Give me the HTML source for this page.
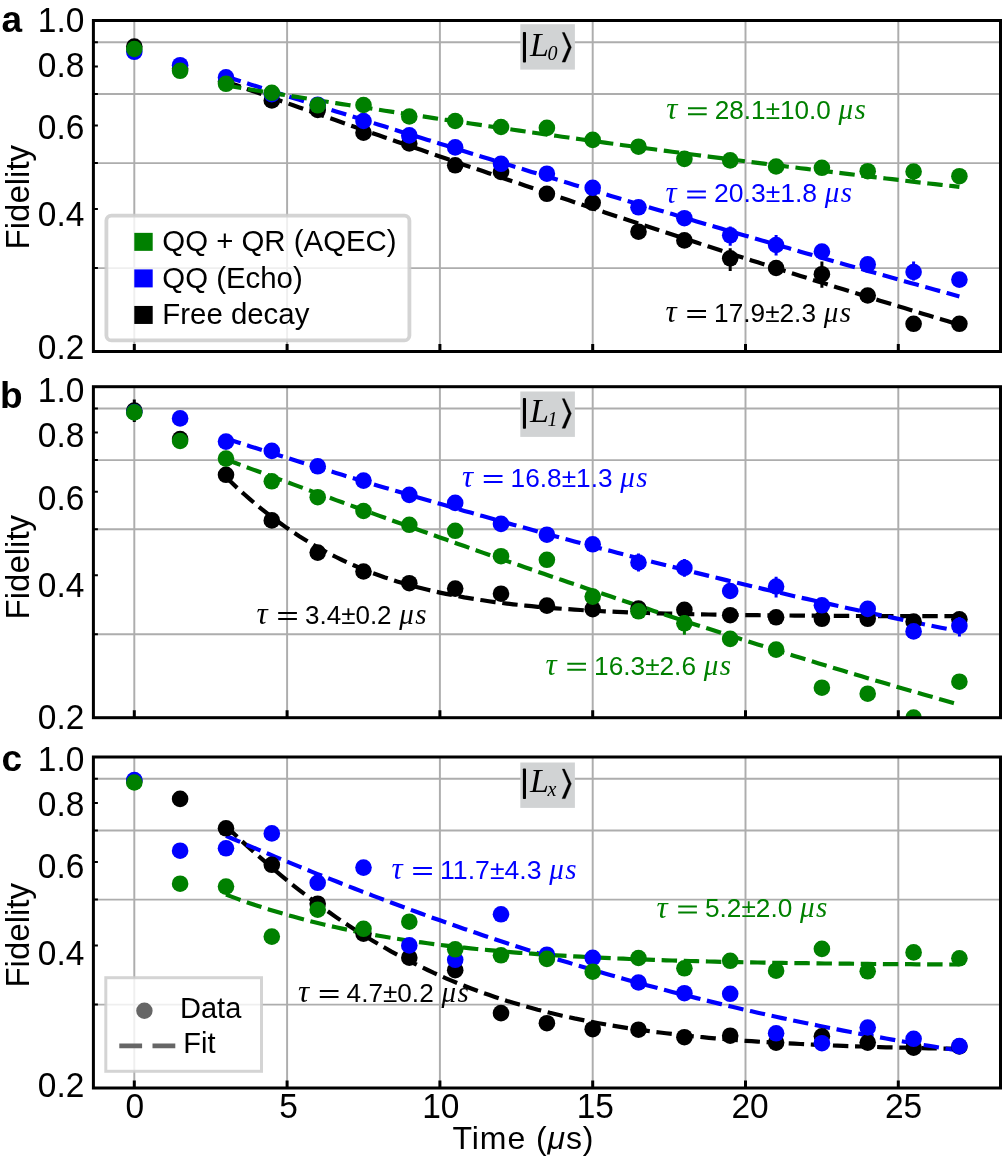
<!DOCTYPE html><html><head><meta charset="utf-8"><style>html,body{margin:0;padding:0;background:#fff;}svg{display:block;will-change:transform;}svg{font-family:"Liberation Sans",sans-serif;}</style></head><body>
<svg width="1002" height="1160" viewBox="0 0 1002 1160">
<rect width="1002" height="1160" fill="#fff"/>
<defs><clipPath id="clipa"><rect x="93.4" y="20.5" width="907.1" height="331.0"/></clipPath></defs>
<path d="M134.3 20.5V351.5M287.1 20.5V351.5M439.9 20.5V351.5M592.7 20.5V351.5M745.5 20.5V351.5M898.3 20.5V351.5M93.4 42.2H1000.5M93.4 93.9H1000.5M93.4 163.1H1000.5M93.4 268.1H1000.5" stroke="#adadad" stroke-width="1.95" fill="none"/>
<text x="666.2" y="119.4" fill="#008000" font-size="31" style="font-family:'Liberation Serif',serif;font-style:italic">τ</text>
<path d="M688.0 108.2h18.7M688.0 114.2h18.7" stroke="#008000" stroke-width="2"/>
<text x="714.8" y="119.1" fill="#008000" font-size="25.5" textLength="116.0" lengthAdjust="spacingAndGlyphs">28.1±10.0</text>
<text x="838.5" y="119.1" fill="#008000" font-size="29" style="font-family:'Liberation Serif',serif;font-style:italic">μ</text>
<text x="854.5" y="119.1" fill="#008000" font-size="29" style="font-family:'Liberation Serif',serif;font-style:italic">s</text>
<text x="665.4" y="202.6" fill="#0000ff" font-size="31" style="font-family:'Liberation Serif',serif;font-style:italic">τ</text>
<path d="M687.2 191.4h18.7M687.2 197.4h18.7" stroke="#0000ff" stroke-width="2"/>
<text x="714.0" y="202.3" fill="#0000ff" font-size="25.5" textLength="103.1" lengthAdjust="spacingAndGlyphs">20.3±1.8</text>
<text x="824.8" y="202.3" fill="#0000ff" font-size="29" style="font-family:'Liberation Serif',serif;font-style:italic">μ</text>
<text x="840.8" y="202.3" fill="#0000ff" font-size="29" style="font-family:'Liberation Serif',serif;font-style:italic">s</text>
<text x="665.5" y="322.1" fill="#000000" font-size="31" style="font-family:'Liberation Serif',serif;font-style:italic">τ</text>
<path d="M687.3 310.9h18.7M687.3 316.9h18.7" stroke="#000000" stroke-width="2"/>
<text x="714.1" y="321.8" fill="#000000" font-size="25.5" textLength="101.9" lengthAdjust="spacingAndGlyphs">17.9±2.3</text>
<text x="823.7" y="321.8" fill="#000000" font-size="29" style="font-family:'Liberation Serif',serif;font-style:italic">μ</text>
<text x="839.7" y="321.8" fill="#000000" font-size="29" style="font-family:'Liberation Serif',serif;font-style:italic">s</text>
<g clip-path="url(#clipa)">
<path d="M226.0 81.5 L232.1 83.7 L238.2 85.8 L244.3 88.0 L250.4 90.2 L256.5 92.3 L262.7 94.5 L268.8 96.7 L274.9 98.8 L281.0 101.0 L287.1 103.1 L293.2 105.3 L299.3 107.4 L305.4 109.6 L311.5 111.8 L317.7 113.9 L323.8 116.0 L329.9 118.2 L336.0 120.3 L342.1 122.5 L348.2 124.6 L354.3 126.8 L360.4 128.9 L366.6 131.0 L372.7 133.2 L378.8 135.3 L384.9 137.4 L391.0 139.5 L397.1 141.7 L403.2 143.8 L409.3 145.9 L415.5 148.0 L421.6 150.1 L427.7 152.2 L433.8 154.3 L439.9 156.5 L446.0 158.6 L452.1 160.7 L458.2 162.8 L464.3 164.9 L470.5 167.0 L476.6 169.0 L482.7 171.1 L488.8 173.2 L494.9 175.3 L501.0 177.4 L507.1 179.5 L513.2 181.5 L519.4 183.6 L525.5 185.7 L531.6 187.8 L537.7 189.8 L543.8 191.9 L549.9 194.0 L556.0 196.0 L562.1 198.1 L568.3 200.1 L574.4 202.2 L580.5 204.2 L586.6 206.3 L592.7 208.3 L598.8 210.4 L604.9 212.4 L611.0 214.4 L617.1 216.5 L623.3 218.5 L629.4 220.5 L635.5 222.5 L641.6 224.6 L647.7 226.6 L653.8 228.6 L659.9 230.6 L666.0 232.6 L672.2 234.6 L678.3 236.6 L684.4 238.6 L690.5 240.6 L696.6 242.6 L702.7 244.6 L708.8 246.6 L714.9 248.5 L721.1 250.5 L727.2 252.5 L733.3 254.5 L739.4 256.4 L745.5 258.4 L751.6 260.4 L757.7 262.3 L763.8 264.3 L769.9 266.2 L776.1 268.2 L782.2 270.1 L788.3 272.0 L794.4 274.0 L800.5 275.9 L806.6 277.8 L812.7 279.8 L818.8 281.7 L825.0 283.6 L831.1 285.5 L837.2 287.4 L843.3 289.3 L849.4 291.2 L855.5 293.1 L861.6 295.0 L867.7 296.9 L873.9 298.8 L880.0 300.7 L886.1 302.5 L892.2 304.4 L898.3 306.3 L904.4 308.1 L910.5 310.0 L916.6 311.9 L922.7 313.7 L928.9 315.6 L935.0 317.4 L941.1 319.2 L947.2 321.1 L953.3 322.9 L959.4 324.7" stroke="#000000" stroke-width="4.18" stroke-dasharray="15.45 6.68" fill="none"/>
<path d="M226.0 76.6 L232.1 78.6 L238.2 80.5 L244.3 82.4 L250.4 84.4 L256.5 86.3 L262.7 88.2 L268.8 90.2 L274.9 92.1 L281.0 94.0 L287.1 96.0 L293.2 97.9 L299.3 99.8 L305.4 101.8 L311.5 103.7 L317.7 105.6 L323.8 107.5 L329.9 109.4 L336.0 111.4 L342.1 113.3 L348.2 115.2 L354.3 117.1 L360.4 119.0 L366.6 120.9 L372.7 122.8 L378.8 124.7 L384.9 126.6 L391.0 128.6 L397.1 130.5 L403.2 132.4 L409.3 134.3 L415.5 136.2 L421.6 138.0 L427.7 139.9 L433.8 141.8 L439.9 143.7 L446.0 145.6 L452.1 147.5 L458.2 149.4 L464.3 151.3 L470.5 153.2 L476.6 155.0 L482.7 156.9 L488.8 158.8 L494.9 160.7 L501.0 162.5 L507.1 164.4 L513.2 166.3 L519.4 168.1 L525.5 170.0 L531.6 171.9 L537.7 173.7 L543.8 175.6 L549.9 177.4 L556.0 179.3 L562.1 181.2 L568.3 183.0 L574.4 184.9 L580.5 186.7 L586.6 188.5 L592.7 190.4 L598.8 192.2 L604.9 194.1 L611.0 195.9 L617.1 197.7 L623.3 199.6 L629.4 201.4 L635.5 203.2 L641.6 205.1 L647.7 206.9 L653.8 208.7 L659.9 210.5 L666.0 212.3 L672.2 214.1 L678.3 216.0 L684.4 217.8 L690.5 219.6 L696.6 221.4 L702.7 223.2 L708.8 225.0 L714.9 226.8 L721.1 228.6 L727.2 230.4 L733.3 232.2 L739.4 233.9 L745.5 235.7 L751.6 237.5 L757.7 239.3 L763.8 241.1 L769.9 242.8 L776.1 244.6 L782.2 246.4 L788.3 248.1 L794.4 249.9 L800.5 251.7 L806.6 253.4 L812.7 255.2 L818.8 256.9 L825.0 258.7 L831.1 260.4 L837.2 262.2 L843.3 263.9 L849.4 265.7 L855.5 267.4 L861.6 269.1 L867.7 270.9 L873.9 272.6 L880.0 274.3 L886.1 276.0 L892.2 277.7 L898.3 279.5 L904.4 281.2 L910.5 282.9 L916.6 284.6 L922.7 286.3 L928.9 288.0 L935.0 289.7 L941.1 291.4 L947.2 293.1 L953.3 294.7 L959.4 296.4" stroke="#0000ff" stroke-width="4.18" stroke-dasharray="15.45 6.68" fill="none"/>
<path d="M226.0 85.5 L232.1 86.5 L238.2 87.5 L244.3 88.5 L250.4 89.5 L256.5 90.5 L262.7 91.5 L268.8 92.5 L274.9 93.4 L281.0 94.4 L287.1 95.4 L293.2 96.4 L299.3 97.3 L305.4 98.3 L311.5 99.3 L317.7 100.2 L323.8 101.2 L329.9 102.2 L336.0 103.1 L342.1 104.1 L348.2 105.0 L354.3 106.0 L360.4 106.9 L366.6 107.8 L372.7 108.8 L378.8 109.7 L384.9 110.7 L391.0 111.6 L397.1 112.5 L403.2 113.5 L409.3 114.4 L415.5 115.3 L421.6 116.2 L427.7 117.1 L433.8 118.1 L439.9 119.0 L446.0 119.9 L452.1 120.8 L458.2 121.7 L464.3 122.6 L470.5 123.5 L476.6 124.4 L482.7 125.3 L488.8 126.2 L494.9 127.1 L501.0 128.0 L507.1 128.8 L513.2 129.7 L519.4 130.6 L525.5 131.5 L531.6 132.4 L537.7 133.2 L543.8 134.1 L549.9 135.0 L556.0 135.8 L562.1 136.7 L568.3 137.5 L574.4 138.4 L580.5 139.3 L586.6 140.1 L592.7 141.0 L598.8 141.8 L604.9 142.6 L611.0 143.5 L617.1 144.3 L623.3 145.2 L629.4 146.0 L635.5 146.8 L641.6 147.6 L647.7 148.5 L653.8 149.3 L659.9 150.1 L666.0 150.9 L672.2 151.7 L678.3 152.5 L684.4 153.3 L690.5 154.2 L696.6 155.0 L702.7 155.8 L708.8 156.6 L714.9 157.3 L721.1 158.1 L727.2 158.9 L733.3 159.7 L739.4 160.5 L745.5 161.3 L751.6 162.1 L757.7 162.8 L763.8 163.6 L769.9 164.4 L776.1 165.1 L782.2 165.9 L788.3 166.7 L794.4 167.4 L800.5 168.2 L806.6 168.9 L812.7 169.7 L818.8 170.4 L825.0 171.2 L831.1 171.9 L837.2 172.7 L843.3 173.4 L849.4 174.1 L855.5 174.9 L861.6 175.6 L867.7 176.3 L873.9 177.1 L880.0 177.8 L886.1 178.5 L892.2 179.2 L898.3 179.9 L904.4 180.6 L910.5 181.3 L916.6 182.1 L922.7 182.8 L928.9 183.5 L935.0 184.2 L941.1 184.8 L947.2 185.5 L953.3 186.2 L959.4 186.9" stroke="#008000" stroke-width="4.18" stroke-dasharray="15.45 6.68" fill="none"/>
<path d="M730.2 248.2V271.0" stroke="#000000" stroke-width="3"/>
<path d="M821.9 261.4V287.7" stroke="#000000" stroke-width="3"/>
<circle cx="134.3" cy="46.6" r="8.3" fill="#000000"/>
<circle cx="180.1" cy="68.5" r="8.3" fill="#000000"/>
<circle cx="226.0" cy="81.5" r="8.3" fill="#000000"/>
<circle cx="271.8" cy="100.4" r="8.3" fill="#000000"/>
<circle cx="317.7" cy="109.9" r="8.3" fill="#000000"/>
<circle cx="363.5" cy="132.7" r="8.3" fill="#000000"/>
<circle cx="409.3" cy="143.5" r="8.3" fill="#000000"/>
<circle cx="455.2" cy="165.3" r="8.3" fill="#000000"/>
<circle cx="501.0" cy="172.0" r="8.3" fill="#000000"/>
<circle cx="546.9" cy="193.8" r="8.3" fill="#000000"/>
<circle cx="592.7" cy="202.8" r="8.3" fill="#000000"/>
<circle cx="638.5" cy="231.7" r="8.3" fill="#000000"/>
<circle cx="684.4" cy="240.4" r="8.3" fill="#000000"/>
<circle cx="730.2" cy="258.3" r="8.3" fill="#000000"/>
<circle cx="776.1" cy="268.0" r="8.3" fill="#000000"/>
<circle cx="821.9" cy="274.2" r="8.3" fill="#000000"/>
<circle cx="867.7" cy="295.5" r="8.3" fill="#000000"/>
<circle cx="913.6" cy="323.8" r="8.3" fill="#000000"/>
<circle cx="959.4" cy="323.8" r="8.3" fill="#000000"/>
<path d="M730.2 226.6V245.8" stroke="#0000ff" stroke-width="3"/>
<path d="M776.1 235.0V255.4" stroke="#0000ff" stroke-width="3"/>
<path d="M913.6 261.4V280.5" stroke="#0000ff" stroke-width="3"/>
<circle cx="134.3" cy="51.8" r="8.3" fill="#0000ff"/>
<circle cx="180.1" cy="65.2" r="8.3" fill="#0000ff"/>
<circle cx="226.0" cy="77.4" r="8.3" fill="#0000ff"/>
<circle cx="271.8" cy="94.1" r="8.3" fill="#0000ff"/>
<circle cx="317.7" cy="104.7" r="8.3" fill="#0000ff"/>
<circle cx="363.5" cy="121.0" r="8.3" fill="#0000ff"/>
<circle cx="409.3" cy="135.4" r="8.3" fill="#0000ff"/>
<circle cx="455.2" cy="147.4" r="8.3" fill="#0000ff"/>
<circle cx="501.0" cy="163.8" r="8.3" fill="#0000ff"/>
<circle cx="546.9" cy="173.7" r="8.3" fill="#0000ff"/>
<circle cx="592.7" cy="187.8" r="8.3" fill="#0000ff"/>
<circle cx="638.5" cy="207.3" r="8.3" fill="#0000ff"/>
<circle cx="684.4" cy="218.2" r="8.3" fill="#0000ff"/>
<circle cx="730.2" cy="235.3" r="8.3" fill="#0000ff"/>
<circle cx="776.1" cy="245.0" r="8.3" fill="#0000ff"/>
<circle cx="821.9" cy="251.5" r="8.3" fill="#0000ff"/>
<circle cx="867.7" cy="264.4" r="8.3" fill="#0000ff"/>
<circle cx="913.6" cy="272.0" r="8.3" fill="#0000ff"/>
<circle cx="959.4" cy="279.6" r="8.3" fill="#0000ff"/>
<path d="M867.7 165V178.7" stroke="#008000" stroke-width="3"/>
<path d="M913.6 164V180" stroke="#008000" stroke-width="3"/>
<circle cx="134.3" cy="49.0" r="8.3" fill="#008000"/>
<circle cx="180.1" cy="70.8" r="8.3" fill="#008000"/>
<circle cx="226.0" cy="83.8" r="8.3" fill="#008000"/>
<circle cx="271.8" cy="92.8" r="8.3" fill="#008000"/>
<circle cx="317.7" cy="105.3" r="8.3" fill="#008000"/>
<circle cx="363.5" cy="105.0" r="8.3" fill="#008000"/>
<circle cx="409.3" cy="116.5" r="8.3" fill="#008000"/>
<circle cx="455.2" cy="121.0" r="8.3" fill="#008000"/>
<circle cx="501.0" cy="127.0" r="8.3" fill="#008000"/>
<circle cx="546.9" cy="127.9" r="8.3" fill="#008000"/>
<circle cx="592.7" cy="139.9" r="8.3" fill="#008000"/>
<circle cx="638.5" cy="146.7" r="8.3" fill="#008000"/>
<circle cx="684.4" cy="158.9" r="8.3" fill="#008000"/>
<circle cx="730.2" cy="160.4" r="8.3" fill="#008000"/>
<circle cx="776.1" cy="166.5" r="8.3" fill="#008000"/>
<circle cx="821.9" cy="167.8" r="8.3" fill="#008000"/>
<circle cx="867.7" cy="171.2" r="8.3" fill="#008000"/>
<circle cx="913.6" cy="171.5" r="8.3" fill="#008000"/>
<circle cx="959.4" cy="176.2" r="8.3" fill="#008000"/>
</g>
<path d="M134.3 351.5V344.0M287.1 351.5V344.0M439.9 351.5V344.0M592.7 351.5V344.0M745.5 351.5V344.0M898.3 351.5V344.0" stroke="#000" stroke-width="3" fill="none"/>
<path d="M93.4 42.2H97.9M93.4 66.4H97.9M93.4 93.9H97.9M93.4 125.6H97.9M93.4 163.1H97.9M93.4 209.0H97.9M93.4 268.1H97.9" stroke="#000" stroke-width="2" fill="none"/>
<rect x="93.4" y="20.5" width="907.1" height="331.0" stroke="#000" stroke-width="3" fill="none"/>
<defs><clipPath id="clipb"><rect x="93.4" y="386.7" width="907.1" height="331.0"/></clipPath></defs>
<path d="M134.3 386.7V717.7M287.1 386.7V717.7M439.9 386.7V717.7M592.7 386.7V717.7M745.5 386.7V717.7M898.3 386.7V717.7M93.4 408.4H1000.5M93.4 460.1H1000.5M93.4 529.3H1000.5M93.4 634.3H1000.5" stroke="#adadad" stroke-width="1.95" fill="none"/>
<text x="462.0" y="487.1" fill="#0000ff" font-size="31" style="font-family:'Liberation Serif',serif;font-style:italic">τ</text>
<path d="M483.8 475.9h18.7M483.8 481.9h18.7" stroke="#0000ff" stroke-width="2"/>
<text x="510.6" y="486.8" fill="#0000ff" font-size="25.5" textLength="102.0" lengthAdjust="spacingAndGlyphs">16.8±1.3</text>
<text x="620.3" y="486.8" fill="#0000ff" font-size="29" style="font-family:'Liberation Serif',serif;font-style:italic">μ</text>
<text x="636.3" y="486.8" fill="#0000ff" font-size="29" style="font-family:'Liberation Serif',serif;font-style:italic">s</text>
<text x="256.4" y="624.3" fill="#000000" font-size="31" style="font-family:'Liberation Serif',serif;font-style:italic">τ</text>
<path d="M278.2 613.1h18.7M278.2 619.1h18.7" stroke="#000000" stroke-width="2"/>
<text x="305.0" y="624.0" fill="#000000" font-size="25.5" textLength="86.6" lengthAdjust="spacingAndGlyphs">3.4±0.2</text>
<text x="399.3" y="624.0" fill="#000000" font-size="29" style="font-family:'Liberation Serif',serif;font-style:italic">μ</text>
<text x="415.3" y="624.0" fill="#000000" font-size="29" style="font-family:'Liberation Serif',serif;font-style:italic">s</text>
<text x="545.5" y="674.9" fill="#008000" font-size="31" style="font-family:'Liberation Serif',serif;font-style:italic">τ</text>
<path d="M567.3 663.7h18.7M567.3 669.7h18.7" stroke="#008000" stroke-width="2"/>
<text x="594.1" y="674.6" fill="#008000" font-size="25.5" textLength="101.9" lengthAdjust="spacingAndGlyphs">16.3±2.6</text>
<text x="703.7" y="674.6" fill="#008000" font-size="29" style="font-family:'Liberation Serif',serif;font-style:italic">μ</text>
<text x="719.7" y="674.6" fill="#008000" font-size="29" style="font-family:'Liberation Serif',serif;font-style:italic">s</text>
<g clip-path="url(#clipb)">
<path d="M226.0 477.2 L232.1 483.1 L238.2 488.8 L244.3 494.3 L250.4 499.6 L256.5 504.8 L262.7 509.8 L268.8 514.6 L274.9 519.3 L281.0 523.7 L287.1 528.1 L293.2 532.2 L299.3 536.2 L305.4 540.0 L311.5 543.7 L317.7 547.3 L323.8 550.6 L329.9 553.9 L336.0 557.0 L342.1 560.0 L348.2 562.8 L354.3 565.5 L360.4 568.1 L366.6 570.6 L372.7 573.0 L378.8 575.2 L384.9 577.4 L391.0 579.4 L397.1 581.4 L403.2 583.2 L409.3 585.0 L415.5 586.7 L421.6 588.3 L427.7 589.8 L433.8 591.2 L439.9 592.6 L446.0 593.9 L452.1 595.1 L458.2 596.2 L464.3 597.4 L470.5 598.4 L476.6 599.4 L482.7 600.3 L488.8 601.2 L494.9 602.1 L501.0 602.8 L507.1 603.6 L513.2 604.3 L519.4 605.0 L525.5 605.6 L531.6 606.2 L537.7 606.8 L543.8 607.3 L549.9 607.8 L556.0 608.3 L562.1 608.8 L568.3 609.2 L574.4 609.6 L580.5 610.0 L586.6 610.4 L592.7 610.7 L598.8 611.0 L604.9 611.3 L611.0 611.6 L617.1 611.9 L623.3 612.1 L629.4 612.4 L635.5 612.6 L641.6 612.8 L647.7 613.0 L653.8 613.2 L659.9 613.4 L666.0 613.6 L672.2 613.7 L678.3 613.9 L684.4 614.0 L690.5 614.2 L696.6 614.3 L702.7 614.4 L708.8 614.5 L714.9 614.6 L721.1 614.7 L727.2 614.8 L733.3 614.9 L739.4 615.0 L745.5 615.1 L751.6 615.2 L757.7 615.2 L763.8 615.3 L769.9 615.4 L776.1 615.4 L782.2 615.5 L788.3 615.5 L794.4 615.6 L800.5 615.6 L806.6 615.7 L812.7 615.7 L818.8 615.8 L825.0 615.8 L831.1 615.8 L837.2 615.9 L843.3 615.9 L849.4 615.9 L855.5 616.0 L861.6 616.0 L867.7 616.0 L873.9 616.0 L880.0 616.1 L886.1 616.1 L892.2 616.1 L898.3 616.1 L904.4 616.1 L910.5 616.1 L916.6 616.2 L922.7 616.2 L928.9 616.2 L935.0 616.2 L941.1 616.2 L947.2 616.2 L953.3 616.2 L959.4 616.2" stroke="#000000" stroke-width="4.18" stroke-dasharray="15.45 6.68" fill="none"/>
<path d="M226.0 438.6 L232.1 440.6 L238.2 442.5 L244.3 444.5 L250.4 446.4 L256.5 448.3 L262.7 450.2 L268.8 452.2 L274.9 454.1 L281.0 456.0 L287.1 457.9 L293.2 459.8 L299.3 461.7 L305.4 463.6 L311.5 465.5 L317.7 467.3 L323.8 469.2 L329.9 471.1 L336.0 472.9 L342.1 474.8 L348.2 476.7 L354.3 478.5 L360.4 480.4 L366.6 482.2 L372.7 484.0 L378.8 485.9 L384.9 487.7 L391.0 489.5 L397.1 491.3 L403.2 493.1 L409.3 494.9 L415.5 496.7 L421.6 498.5 L427.7 500.3 L433.8 502.1 L439.9 503.8 L446.0 505.6 L452.1 507.4 L458.2 509.1 L464.3 510.9 L470.5 512.6 L476.6 514.4 L482.7 516.1 L488.8 517.8 L494.9 519.6 L501.0 521.3 L507.1 523.0 L513.2 524.7 L519.4 526.4 L525.5 528.1 L531.6 529.8 L537.7 531.4 L543.8 533.1 L549.9 534.8 L556.0 536.4 L562.1 538.1 L568.3 539.7 L574.4 541.4 L580.5 543.0 L586.6 544.7 L592.7 546.3 L598.8 547.9 L604.9 549.5 L611.0 551.1 L617.1 552.7 L623.3 554.3 L629.4 555.9 L635.5 557.5 L641.6 559.0 L647.7 560.6 L653.8 562.2 L659.9 563.7 L666.0 565.3 L672.2 566.8 L678.3 568.3 L684.4 569.9 L690.5 571.4 L696.6 572.9 L702.7 574.4 L708.8 575.9 L714.9 577.4 L721.1 578.9 L727.2 580.4 L733.3 581.8 L739.4 583.3 L745.5 584.7 L751.6 586.2 L757.7 587.6 L763.8 589.1 L769.9 590.5 L776.1 591.9 L782.2 593.3 L788.3 594.8 L794.4 596.2 L800.5 597.6 L806.6 598.9 L812.7 600.3 L818.8 601.7 L825.0 603.1 L831.1 604.4 L837.2 605.8 L843.3 607.1 L849.4 608.5 L855.5 609.8 L861.6 611.1 L867.7 612.4 L873.9 613.8 L880.0 615.1 L886.1 616.4 L892.2 617.6 L898.3 618.9 L904.4 620.2 L910.5 621.5 L916.6 622.7 L922.7 624.0 L928.9 625.2 L935.0 626.5 L941.1 627.7 L947.2 628.9 L953.3 630.1 L959.4 631.4" stroke="#0000ff" stroke-width="4.18" stroke-dasharray="15.45 6.68" fill="none"/>
<path d="M226.0 459.5 L232.1 461.7 L238.2 464.0 L244.3 466.3 L250.4 468.6 L256.5 470.8 L262.7 473.1 L268.8 475.4 L274.9 477.6 L281.0 479.9 L287.1 482.1 L293.2 484.4 L299.3 486.6 L305.4 488.9 L311.5 491.1 L317.7 493.4 L323.8 495.6 L329.9 497.8 L336.0 500.1 L342.1 502.3 L348.2 504.5 L354.3 506.7 L360.4 509.0 L366.6 511.2 L372.7 513.4 L378.8 515.6 L384.9 517.8 L391.0 520.0 L397.1 522.2 L403.2 524.4 L409.3 526.6 L415.5 528.8 L421.6 530.9 L427.7 533.1 L433.8 535.3 L439.9 537.5 L446.0 539.6 L452.1 541.8 L458.2 544.0 L464.3 546.1 L470.5 548.3 L476.6 550.4 L482.7 552.6 L488.8 554.7 L494.9 556.8 L501.0 559.0 L507.1 561.1 L513.2 563.2 L519.4 565.3 L525.5 567.5 L531.6 569.6 L537.7 571.7 L543.8 573.8 L549.9 575.9 L556.0 578.0 L562.1 580.1 L568.3 582.2 L574.4 584.2 L580.5 586.3 L586.6 588.4 L592.7 590.5 L598.8 592.5 L604.9 594.6 L611.0 596.6 L617.1 598.7 L623.3 600.7 L629.4 602.8 L635.5 604.8 L641.6 606.8 L647.7 608.8 L653.8 610.9 L659.9 612.9 L666.0 614.9 L672.2 616.9 L678.3 618.9 L684.4 620.9 L690.5 622.9 L696.6 624.9 L702.7 626.8 L708.8 628.8 L714.9 630.8 L721.1 632.7 L727.2 634.7 L733.3 636.7 L739.4 638.6 L745.5 640.5 L751.6 642.5 L757.7 644.4 L763.8 646.3 L769.9 648.3 L776.1 650.2 L782.2 652.1 L788.3 654.0 L794.4 655.9 L800.5 657.8 L806.6 659.6 L812.7 661.5 L818.8 663.4 L825.0 665.3 L831.1 667.1 L837.2 669.0 L843.3 670.8 L849.4 672.7 L855.5 674.5 L861.6 676.3 L867.7 678.2 L873.9 680.0 L880.0 681.8 L886.1 683.6 L892.2 685.4 L898.3 687.2 L904.4 689.0 L910.5 690.7 L916.6 692.5 L922.7 694.3 L928.9 696.0 L935.0 697.8 L941.1 699.5 L947.2 701.3 L953.3 703.0 L959.4 704.7" stroke="#008000" stroke-width="4.18" stroke-dasharray="15.45 6.68" fill="none"/>
<path d="M134.3 399.5V422" stroke="#000000" stroke-width="3"/>
<circle cx="134.3" cy="410.6" r="8.3" fill="#000000"/>
<circle cx="180.1" cy="439.0" r="8.3" fill="#000000"/>
<circle cx="226.0" cy="474.8" r="8.3" fill="#000000"/>
<circle cx="271.8" cy="520.4" r="8.3" fill="#000000"/>
<circle cx="317.7" cy="552.6" r="8.3" fill="#000000"/>
<circle cx="363.5" cy="571.5" r="8.3" fill="#000000"/>
<circle cx="409.3" cy="583.2" r="8.3" fill="#000000"/>
<circle cx="455.2" cy="588.6" r="8.3" fill="#000000"/>
<circle cx="501.0" cy="593.7" r="8.3" fill="#000000"/>
<circle cx="546.9" cy="605.6" r="8.3" fill="#000000"/>
<circle cx="592.7" cy="609.2" r="8.3" fill="#000000"/>
<circle cx="638.5" cy="608.6" r="8.3" fill="#000000"/>
<circle cx="684.4" cy="609.8" r="8.3" fill="#000000"/>
<circle cx="730.2" cy="615.2" r="8.3" fill="#000000"/>
<circle cx="776.1" cy="617.3" r="8.3" fill="#000000"/>
<circle cx="821.9" cy="618.8" r="8.3" fill="#000000"/>
<circle cx="867.7" cy="618.8" r="8.3" fill="#000000"/>
<circle cx="913.6" cy="621.5" r="8.3" fill="#000000"/>
<circle cx="959.4" cy="619.3" r="8.3" fill="#000000"/>
<path d="M638.5 553.5V571.4" stroke="#0000ff" stroke-width="3"/>
<path d="M684.4 558.9V576.8" stroke="#0000ff" stroke-width="3"/>
<path d="M776.1 576.8V597.5" stroke="#0000ff" stroke-width="3"/>
<path d="M959.4 617V636.5" stroke="#0000ff" stroke-width="3"/>
<circle cx="134.3" cy="412.0" r="8.3" fill="#0000ff"/>
<circle cx="180.1" cy="418.4" r="8.3" fill="#0000ff"/>
<circle cx="226.0" cy="441.6" r="8.3" fill="#0000ff"/>
<circle cx="271.8" cy="450.9" r="8.3" fill="#0000ff"/>
<circle cx="317.7" cy="466.3" r="8.3" fill="#0000ff"/>
<circle cx="363.5" cy="480.6" r="8.3" fill="#0000ff"/>
<circle cx="409.3" cy="494.9" r="8.3" fill="#0000ff"/>
<circle cx="455.2" cy="502.9" r="8.3" fill="#0000ff"/>
<circle cx="501.0" cy="523.9" r="8.3" fill="#0000ff"/>
<circle cx="546.9" cy="534.7" r="8.3" fill="#0000ff"/>
<circle cx="592.7" cy="544.3" r="8.3" fill="#0000ff"/>
<circle cx="638.5" cy="562.5" r="8.3" fill="#0000ff"/>
<circle cx="684.4" cy="567.9" r="8.3" fill="#0000ff"/>
<circle cx="730.2" cy="591.0" r="8.3" fill="#0000ff"/>
<circle cx="776.1" cy="586.5" r="8.3" fill="#0000ff"/>
<circle cx="821.9" cy="605.3" r="8.3" fill="#0000ff"/>
<circle cx="867.7" cy="608.9" r="8.3" fill="#0000ff"/>
<circle cx="913.6" cy="631.4" r="8.3" fill="#0000ff"/>
<circle cx="959.4" cy="625.9" r="8.3" fill="#0000ff"/>
<path d="M684.4 615V634.8" stroke="#008000" stroke-width="3"/>
<circle cx="134.3" cy="412.4" r="8.3" fill="#008000"/>
<circle cx="180.1" cy="441.0" r="8.3" fill="#008000"/>
<circle cx="226.0" cy="458.6" r="8.3" fill="#008000"/>
<circle cx="271.8" cy="481.3" r="8.3" fill="#008000"/>
<circle cx="317.7" cy="497.2" r="8.3" fill="#008000"/>
<circle cx="363.5" cy="511.0" r="8.3" fill="#008000"/>
<circle cx="409.3" cy="524.8" r="8.3" fill="#008000"/>
<circle cx="455.2" cy="530.8" r="8.3" fill="#008000"/>
<circle cx="501.0" cy="556.2" r="8.3" fill="#008000"/>
<circle cx="546.9" cy="559.8" r="8.3" fill="#008000"/>
<circle cx="592.7" cy="596.6" r="8.3" fill="#008000"/>
<circle cx="638.5" cy="611.3" r="8.3" fill="#008000"/>
<circle cx="684.4" cy="623.3" r="8.3" fill="#008000"/>
<circle cx="730.2" cy="638.9" r="8.3" fill="#008000"/>
<circle cx="776.1" cy="649.6" r="8.3" fill="#008000"/>
<circle cx="821.9" cy="687.7" r="8.3" fill="#008000"/>
<circle cx="867.7" cy="693.7" r="8.3" fill="#008000"/>
<circle cx="913.6" cy="717.5" r="8.3" fill="#008000"/>
<circle cx="959.4" cy="681.7" r="8.3" fill="#008000"/>
</g>
<path d="M134.3 717.7V710.2M287.1 717.7V710.2M439.9 717.7V710.2M592.7 717.7V710.2M745.5 717.7V710.2M898.3 717.7V710.2" stroke="#000" stroke-width="3" fill="none"/>
<path d="M93.4 408.4H97.9M93.4 432.6H97.9M93.4 460.1H97.9M93.4 491.8H97.9M93.4 529.3H97.9M93.4 575.2H97.9M93.4 634.3H97.9" stroke="#000" stroke-width="2" fill="none"/>
<rect x="93.4" y="386.7" width="907.1" height="331.0" stroke="#000" stroke-width="3" fill="none"/>
<defs><clipPath id="clipc"><rect x="93.4" y="757.0" width="907.1" height="331.0"/></clipPath></defs>
<path d="M134.3 757.0V1088.0M287.1 757.0V1088.0M439.9 757.0V1088.0M592.7 757.0V1088.0M745.5 757.0V1088.0M898.3 757.0V1088.0M93.4 778.7H1000.5M93.4 830.4H1000.5M93.4 899.6H1000.5M93.4 1004.6H1000.5" stroke="#adadad" stroke-width="1.95" fill="none"/>
<text x="391.4" y="879.2" fill="#0000ff" font-size="31" style="font-family:'Liberation Serif',serif;font-style:italic">τ</text>
<path d="M413.2 868.0h18.7M413.2 874.0h18.7" stroke="#0000ff" stroke-width="2"/>
<text x="440.0" y="878.9" fill="#0000ff" font-size="25.5" textLength="101.6" lengthAdjust="spacingAndGlyphs">11.7±4.3</text>
<text x="549.3" y="878.9" fill="#0000ff" font-size="29" style="font-family:'Liberation Serif',serif;font-style:italic">μ</text>
<text x="565.3" y="878.9" fill="#0000ff" font-size="29" style="font-family:'Liberation Serif',serif;font-style:italic">s</text>
<text x="656.4" y="917.7" fill="#008000" font-size="31" style="font-family:'Liberation Serif',serif;font-style:italic">τ</text>
<path d="M678.2 906.5h18.7M678.2 912.5h18.7" stroke="#008000" stroke-width="2"/>
<text x="705.0" y="917.4" fill="#008000" font-size="25.5" textLength="87.3" lengthAdjust="spacingAndGlyphs">5.2±2.0</text>
<text x="800.0" y="917.4" fill="#008000" font-size="29" style="font-family:'Liberation Serif',serif;font-style:italic">μ</text>
<text x="816.0" y="917.4" fill="#008000" font-size="29" style="font-family:'Liberation Serif',serif;font-style:italic">s</text>
<text x="298.0" y="1002.2" fill="#000000" font-size="31" style="font-family:'Liberation Serif',serif;font-style:italic">τ</text>
<path d="M319.8 991.0h18.7M319.8 997.0h18.7" stroke="#000000" stroke-width="2"/>
<text x="346.6" y="1001.9" fill="#000000" font-size="25.5" textLength="87.1" lengthAdjust="spacingAndGlyphs">4.7±0.2</text>
<text x="441.4" y="1001.9" fill="#000000" font-size="29" style="font-family:'Liberation Serif',serif;font-style:italic">μ</text>
<text x="457.4" y="1001.9" fill="#000000" font-size="29" style="font-family:'Liberation Serif',serif;font-style:italic">s</text>
<g clip-path="url(#clipc)">
<path d="M226.0 826.2 L232.1 832.0 L238.2 837.7 L244.3 843.4 L250.4 848.9 L256.5 854.4 L262.7 859.7 L268.8 865.0 L274.9 870.2 L281.0 875.3 L287.1 880.4 L293.2 885.3 L299.3 890.1 L305.4 894.8 L311.5 899.5 L317.7 904.0 L323.8 908.5 L329.9 912.8 L336.0 917.1 L342.1 921.3 L348.2 925.3 L354.3 929.3 L360.4 933.2 L366.6 937.0 L372.7 940.7 L378.8 944.3 L384.9 947.8 L391.0 951.3 L397.1 954.6 L403.2 957.9 L409.3 961.0 L415.5 964.1 L421.6 967.1 L427.7 970.0 L433.8 972.9 L439.9 975.6 L446.0 978.3 L452.1 980.9 L458.2 983.4 L464.3 985.8 L470.5 988.2 L476.6 990.5 L482.7 992.7 L488.8 994.8 L494.9 996.9 L501.0 998.9 L507.1 1000.9 L513.2 1002.7 L519.4 1004.6 L525.5 1006.3 L531.6 1008.0 L537.7 1009.7 L543.8 1011.2 L549.9 1012.8 L556.0 1014.2 L562.1 1015.7 L568.3 1017.0 L574.4 1018.4 L580.5 1019.6 L586.6 1020.9 L592.7 1022.1 L598.8 1023.2 L604.9 1024.3 L611.0 1025.4 L617.1 1026.4 L623.3 1027.4 L629.4 1028.3 L635.5 1029.2 L641.6 1030.1 L647.7 1030.9 L653.8 1031.8 L659.9 1032.5 L666.0 1033.3 L672.2 1034.0 L678.3 1034.7 L684.4 1035.4 L690.5 1036.0 L696.6 1036.6 L702.7 1037.2 L708.8 1037.8 L714.9 1038.3 L721.1 1038.9 L727.2 1039.4 L733.3 1039.8 L739.4 1040.3 L745.5 1040.8 L751.6 1041.2 L757.7 1041.6 L763.8 1042.0 L769.9 1042.4 L776.1 1042.7 L782.2 1043.1 L788.3 1043.4 L794.4 1043.7 L800.5 1044.0 L806.6 1044.3 L812.7 1044.6 L818.8 1044.9 L825.0 1045.2 L831.1 1045.4 L837.2 1045.7 L843.3 1045.9 L849.4 1046.1 L855.5 1046.3 L861.6 1046.5 L867.7 1046.7 L873.9 1046.9 L880.0 1047.1 L886.1 1047.3 L892.2 1047.4 L898.3 1047.6 L904.4 1047.7 L910.5 1047.9 L916.6 1048.0 L922.7 1048.2 L928.9 1048.3 L935.0 1048.4 L941.1 1048.5 L947.2 1048.6 L953.3 1048.7 L959.4 1048.9" stroke="#000000" stroke-width="4.18" stroke-dasharray="15.45 6.68" fill="none"/>
<path d="M226.0 835.8 L232.1 838.5 L238.2 841.1 L244.3 843.7 L250.4 846.3 L256.5 848.9 L262.7 851.5 L268.8 854.0 L274.9 856.6 L281.0 859.1 L287.1 861.6 L293.2 864.1 L299.3 866.6 L305.4 869.1 L311.5 871.6 L317.7 874.1 L323.8 876.5 L329.9 878.9 L336.0 881.3 L342.1 883.8 L348.2 886.1 L354.3 888.5 L360.4 890.9 L366.6 893.2 L372.7 895.6 L378.8 897.9 L384.9 900.2 L391.0 902.5 L397.1 904.8 L403.2 907.0 L409.3 909.3 L415.5 911.5 L421.6 913.8 L427.7 916.0 L433.8 918.2 L439.9 920.3 L446.0 922.5 L452.1 924.6 L458.2 926.8 L464.3 928.9 L470.5 931.0 L476.6 933.1 L482.7 935.2 L488.8 937.2 L494.9 939.3 L501.0 941.3 L507.1 943.3 L513.2 945.3 L519.4 947.3 L525.5 949.3 L531.6 951.2 L537.7 953.2 L543.8 955.1 L549.9 957.0 L556.0 958.9 L562.1 960.7 L568.3 962.6 L574.4 964.5 L580.5 966.3 L586.6 968.1 L592.7 969.9 L598.8 971.7 L604.9 973.4 L611.0 975.2 L617.1 976.9 L623.3 978.7 L629.4 980.4 L635.5 982.1 L641.6 983.7 L647.7 985.4 L653.8 987.0 L659.9 988.7 L666.0 990.3 L672.2 991.9 L678.3 993.5 L684.4 995.0 L690.5 996.6 L696.6 998.1 L702.7 999.6 L708.8 1001.1 L714.9 1002.6 L721.1 1004.1 L727.2 1005.6 L733.3 1007.0 L739.4 1008.5 L745.5 1009.9 L751.6 1011.3 L757.7 1012.7 L763.8 1014.0 L769.9 1015.4 L776.1 1016.7 L782.2 1018.1 L788.3 1019.4 L794.4 1020.7 L800.5 1022.0 L806.6 1023.2 L812.7 1024.5 L818.8 1025.7 L825.0 1027.0 L831.1 1028.2 L837.2 1029.4 L843.3 1030.6 L849.4 1031.8 L855.5 1032.9 L861.6 1034.1 L867.7 1035.2 L873.9 1036.3 L880.0 1037.4 L886.1 1038.5 L892.2 1039.6 L898.3 1040.7 L904.4 1041.7 L910.5 1042.8 L916.6 1043.8 L922.7 1044.8 L928.9 1045.8 L935.0 1046.8 L941.1 1047.8 L947.2 1048.8 L953.3 1049.7 L959.4 1050.7" stroke="#0000ff" stroke-width="4.18" stroke-dasharray="15.45 6.68" fill="none"/>
<path d="M226.0 894.6 L232.1 896.9 L238.2 899.1 L244.3 901.3 L250.4 903.4 L256.5 905.5 L262.7 907.5 L268.8 909.4 L274.9 911.3 L281.0 913.1 L287.1 914.9 L293.2 916.6 L299.3 918.3 L305.4 919.9 L311.5 921.5 L317.7 923.0 L323.8 924.5 L329.9 925.9 L336.0 927.3 L342.1 928.6 L348.2 929.9 L354.3 931.2 L360.4 932.4 L366.6 933.5 L372.7 934.7 L378.8 935.8 L384.9 936.8 L391.0 937.8 L397.1 938.8 L403.2 939.8 L409.3 940.7 L415.5 941.6 L421.6 942.4 L427.7 943.3 L433.8 944.1 L439.9 944.9 L446.0 945.6 L452.1 946.3 L458.2 947.0 L464.3 947.7 L470.5 948.3 L476.6 949.0 L482.7 949.6 L488.8 950.1 L494.9 950.7 L501.0 951.2 L507.1 951.8 L513.2 952.3 L519.4 952.8 L525.5 953.2 L531.6 953.7 L537.7 954.1 L543.8 954.5 L549.9 954.9 L556.0 955.3 L562.1 955.7 L568.3 956.0 L574.4 956.4 L580.5 956.7 L586.6 957.0 L592.7 957.4 L598.8 957.7 L604.9 957.9 L611.0 958.2 L617.1 958.5 L623.3 958.7 L629.4 959.0 L635.5 959.2 L641.6 959.5 L647.7 959.7 L653.8 959.9 L659.9 960.1 L666.0 960.3 L672.2 960.5 L678.3 960.7 L684.4 960.8 L690.5 961.0 L696.6 961.2 L702.7 961.3 L708.8 961.5 L714.9 961.6 L721.1 961.8 L727.2 961.9 L733.3 962.0 L739.4 962.2 L745.5 962.3 L751.6 962.4 L757.7 962.5 L763.8 962.6 L769.9 962.7 L776.1 962.8 L782.2 962.9 L788.3 963.0 L794.4 963.1 L800.5 963.2 L806.6 963.2 L812.7 963.3 L818.8 963.4 L825.0 963.5 L831.1 963.5 L837.2 963.6 L843.3 963.7 L849.4 963.7 L855.5 963.8 L861.6 963.8 L867.7 963.9 L873.9 964.0 L880.0 964.0 L886.1 964.1 L892.2 964.1 L898.3 964.2 L904.4 964.2 L910.5 964.2 L916.6 964.3 L922.7 964.3 L928.9 964.4 L935.0 964.4 L941.1 964.4 L947.2 964.5 L953.3 964.5 L959.4 964.5" stroke="#008000" stroke-width="4.18" stroke-dasharray="15.45 6.68" fill="none"/>
<circle cx="134.3" cy="781.0" r="8.3" fill="#000000"/>
<circle cx="180.1" cy="798.9" r="8.3" fill="#000000"/>
<circle cx="226.0" cy="828.3" r="8.3" fill="#000000"/>
<circle cx="271.8" cy="864.8" r="8.3" fill="#000000"/>
<circle cx="317.7" cy="903.7" r="8.3" fill="#000000"/>
<circle cx="363.5" cy="933.6" r="8.3" fill="#000000"/>
<circle cx="409.3" cy="957.7" r="8.3" fill="#000000"/>
<circle cx="455.2" cy="970.2" r="8.3" fill="#000000"/>
<circle cx="501.0" cy="1013.1" r="8.3" fill="#000000"/>
<circle cx="546.9" cy="1023.2" r="8.3" fill="#000000"/>
<circle cx="592.7" cy="1029.2" r="8.3" fill="#000000"/>
<circle cx="638.5" cy="1029.7" r="8.3" fill="#000000"/>
<circle cx="684.4" cy="1037.2" r="8.3" fill="#000000"/>
<circle cx="730.2" cy="1035.7" r="8.3" fill="#000000"/>
<circle cx="776.1" cy="1042.6" r="8.3" fill="#000000"/>
<circle cx="821.9" cy="1036.3" r="8.3" fill="#000000"/>
<circle cx="867.7" cy="1042.6" r="8.3" fill="#000000"/>
<circle cx="913.6" cy="1047.7" r="8.3" fill="#000000"/>
<circle cx="959.4" cy="1046.5" r="8.3" fill="#000000"/>
<circle cx="134.3" cy="780.0" r="8.3" fill="#0000ff"/>
<circle cx="180.1" cy="850.7" r="8.3" fill="#0000ff"/>
<circle cx="226.0" cy="848.3" r="8.3" fill="#0000ff"/>
<circle cx="271.8" cy="833.4" r="8.3" fill="#0000ff"/>
<circle cx="317.7" cy="882.8" r="8.3" fill="#0000ff"/>
<circle cx="363.5" cy="867.6" r="8.3" fill="#0000ff"/>
<circle cx="409.3" cy="945.4" r="8.3" fill="#0000ff"/>
<circle cx="455.2" cy="959.8" r="8.3" fill="#0000ff"/>
<circle cx="501.0" cy="914.3" r="8.3" fill="#0000ff"/>
<circle cx="546.9" cy="954.7" r="8.3" fill="#0000ff"/>
<circle cx="592.7" cy="957.8" r="8.3" fill="#0000ff"/>
<circle cx="638.5" cy="982.5" r="8.3" fill="#0000ff"/>
<circle cx="684.4" cy="993.2" r="8.3" fill="#0000ff"/>
<circle cx="730.2" cy="993.8" r="8.3" fill="#0000ff"/>
<circle cx="776.1" cy="1033.3" r="8.3" fill="#0000ff"/>
<circle cx="821.9" cy="1043.2" r="8.3" fill="#0000ff"/>
<circle cx="867.7" cy="1027.5" r="8.3" fill="#0000ff"/>
<circle cx="913.6" cy="1038.8" r="8.3" fill="#0000ff"/>
<circle cx="959.4" cy="1046.1" r="8.3" fill="#0000ff"/>
<circle cx="134.3" cy="782.5" r="8.3" fill="#008000"/>
<circle cx="180.1" cy="883.7" r="8.3" fill="#008000"/>
<circle cx="226.0" cy="886.6" r="8.3" fill="#008000"/>
<circle cx="271.8" cy="936.6" r="8.3" fill="#008000"/>
<circle cx="317.7" cy="909.7" r="8.3" fill="#008000"/>
<circle cx="363.5" cy="928.8" r="8.3" fill="#008000"/>
<circle cx="409.3" cy="921.7" r="8.3" fill="#008000"/>
<circle cx="455.2" cy="949.3" r="8.3" fill="#008000"/>
<circle cx="501.0" cy="955.3" r="8.3" fill="#008000"/>
<circle cx="546.9" cy="958.9" r="8.3" fill="#008000"/>
<circle cx="592.7" cy="971.7" r="8.3" fill="#008000"/>
<circle cx="638.5" cy="958.0" r="8.3" fill="#008000"/>
<circle cx="684.4" cy="968.3" r="8.3" fill="#008000"/>
<circle cx="730.2" cy="960.8" r="8.3" fill="#008000"/>
<circle cx="776.1" cy="970.7" r="8.3" fill="#008000"/>
<circle cx="821.9" cy="948.9" r="8.3" fill="#008000"/>
<circle cx="867.7" cy="971.3" r="8.3" fill="#008000"/>
<circle cx="913.6" cy="952.4" r="8.3" fill="#008000"/>
<circle cx="959.4" cy="958.3" r="8.3" fill="#008000"/>
</g>
<path d="M134.3 1088.0V1080.5M287.1 1088.0V1080.5M439.9 1088.0V1080.5M592.7 1088.0V1080.5M745.5 1088.0V1080.5M898.3 1088.0V1080.5" stroke="#000" stroke-width="3" fill="none"/>
<path d="M93.4 778.7H97.9M93.4 802.9H97.9M93.4 830.4H97.9M93.4 862.1H97.9M93.4 899.6H97.9M93.4 945.5H97.9M93.4 1004.6H97.9" stroke="#000" stroke-width="2" fill="none"/>
<rect x="93.4" y="757.0" width="907.1" height="331.0" stroke="#000" stroke-width="3" fill="none"/>
<text transform="translate(84.4 32.0) scale(1 1.045)" font-size="33.5" text-anchor="end">1.0</text>
<text transform="translate(84.4 76.9) scale(1 1.045)" font-size="33.5" text-anchor="end">0.8</text>
<text transform="translate(84.4 139.4) scale(1 1.045)" font-size="33.5" text-anchor="end">0.6</text>
<text transform="translate(84.4 226.3) scale(1 1.045)" font-size="33.5" text-anchor="end">0.4</text>
<text transform="translate(84.4 358.8) scale(1 1.045)" font-size="33.5" text-anchor="end">0.2</text>
<text transform="translate(84.4 402.3) scale(1 1.045)" font-size="33.5" text-anchor="end">1.0</text>
<text transform="translate(84.4 447.2) scale(1 1.045)" font-size="33.5" text-anchor="end">0.8</text>
<text transform="translate(84.4 509.6) scale(1 1.045)" font-size="33.5" text-anchor="end">0.6</text>
<text transform="translate(84.4 597.0) scale(1 1.045)" font-size="33.5" text-anchor="end">0.4</text>
<text transform="translate(84.4 728.7) scale(1 1.045)" font-size="33.5" text-anchor="end">0.2</text>
<text transform="translate(84.4 770.5) scale(1 1.045)" font-size="33.5" text-anchor="end">1.0</text>
<text transform="translate(84.4 815.9) scale(1 1.045)" font-size="33.5" text-anchor="end">0.8</text>
<text transform="translate(84.4 878.0) scale(1 1.045)" font-size="33.5" text-anchor="end">0.6</text>
<text transform="translate(84.4 964.8) scale(1 1.045)" font-size="33.5" text-anchor="end">0.4</text>
<text transform="translate(84.4 1096.9) scale(1 1.045)" font-size="33.5" text-anchor="end">0.2</text>
<text transform="translate(134.85 1117.9) scale(1 1.045)" font-size="33.5" text-anchor="middle">0</text>
<text transform="translate(288.6 1117.9) scale(1 1.045)" font-size="33.5" text-anchor="middle">5</text>
<text transform="translate(440.8 1117.9) scale(1 1.045)" font-size="33.5" text-anchor="middle">10</text>
<text transform="translate(595.3 1117.9) scale(1 1.045)" font-size="33.5" text-anchor="middle">15</text>
<text transform="translate(750.0 1117.9) scale(1 1.045)" font-size="33.5" text-anchor="middle">20</text>
<text transform="translate(903.6 1117.9) scale(1 1.045)" font-size="33.5" text-anchor="middle">25</text>
<text x="452.5" y="1148.9" font-size="32" textLength="141" lengthAdjust="spacing">Time (<tspan font-style="italic">μ</tspan>s)</text>
<text transform="translate(28.9 197.2) rotate(-90)" font-size="33" text-anchor="middle">Fidelity</text>
<text transform="translate(28.9 567.2) rotate(-90)" font-size="33" text-anchor="middle">Fidelity</text>
<text transform="translate(28.9 935.3) rotate(-90)" font-size="33" text-anchor="middle">Fidelity</text>
<text x="1.5" y="32.2" font-size="37" font-weight="bold">a</text>
<text x="0" y="408.4" font-size="37" font-weight="bold">b</text>
<text x="1.5" y="771.4" font-size="37" font-weight="bold">c</text>
<rect x="106.4" y="215.6" width="303" height="124.8" rx="5" ry="5" fill="#fff" fill-opacity="0.8" stroke="#cccccc" stroke-opacity="0.85" stroke-width="3.8"/>
<rect x="134.3" y="232.85" width="18.4" height="18" fill="#008000"/>
<text x="162.3" y="251.30" font-size="29.4">QQ + QR (AQEC)</text>
<rect x="134.3" y="269.40" width="18.4" height="18" fill="#0000ff"/>
<text x="162.3" y="287.85" font-size="29.4">QQ (Echo)</text>
<rect x="134.3" y="305.95" width="18.4" height="18" fill="#000000"/>
<text x="162.3" y="324.40" font-size="29.4">Free decay</text>
<rect x="105.8" y="977.7" width="155.7" height="93.6" fill="#fff" fill-opacity="0.8" stroke="#cccccc" stroke-opacity="0.85" stroke-width="3"/>
<circle cx="144.4" cy="1010.7" r="8.2" fill="#666666"/>
<path d="M119.3 1045.9H142.1M152.5 1045.9H175.3" stroke="#666666" stroke-width="4.6"/>
<text x="180" y="1018.4" font-size="29">Data</text>
<text x="183.3" y="1053.4" font-size="29">Fit</text>
<rect x="520.3" y="24.2" width="54.6" height="45.4" fill="#d1d3d4"/>
<rect x="522.9" y="32.0" width="3.1" height="30.6" rx="0.8" fill="#000"/>
<path d="M562.3 32.6 L564.5 32.6 L571.3 47.3 L565.2 62.1 L562.1 62.1 L568.5 47.3 Z" fill="#000" stroke="#000" stroke-width="0.4" stroke-linejoin="round"/>
<text x="530.0" y="55.6" font-size="34" style="font-family:'Liberation Serif',serif;font-style:italic">L</text>
<text x="547.6" y="59.8" font-size="20" style="font-family:'Liberation Serif',serif;font-style:italic">0</text>
<rect x="520.3" y="391.5" width="54.6" height="45.4" fill="#d1d3d4"/>
<rect x="522.9" y="398.1" width="3.1" height="30.6" rx="0.8" fill="#000"/>
<path d="M562.3 398.7 L564.5 398.7 L571.3 413.4 L565.2 428.2 L562.1 428.2 L568.5 413.4 Z" fill="#000" stroke="#000" stroke-width="0.4" stroke-linejoin="round"/>
<text x="530.0" y="421.7" font-size="34" style="font-family:'Liberation Serif',serif;font-style:italic">L</text>
<text x="547.6" y="425.6" font-size="20" style="font-family:'Liberation Serif',serif;font-style:italic">1</text>
<rect x="520.3" y="762.5" width="54.6" height="45.4" fill="#d1d3d4"/>
<rect x="522.9" y="768.5" width="3.1" height="30.6" rx="0.8" fill="#000"/>
<path d="M562.3 769.1 L564.5 769.1 L571.3 783.8 L565.2 798.6 L562.1 798.6 L568.5 783.8 Z" fill="#000" stroke="#000" stroke-width="0.4" stroke-linejoin="round"/>
<text x="530.0" y="792.1" font-size="34" style="font-family:'Liberation Serif',serif;font-style:italic">L</text>
<text x="547.6" y="796.0" font-size="20" style="font-family:'Liberation Serif',serif;font-style:italic">x</text>
</svg></body></html>
